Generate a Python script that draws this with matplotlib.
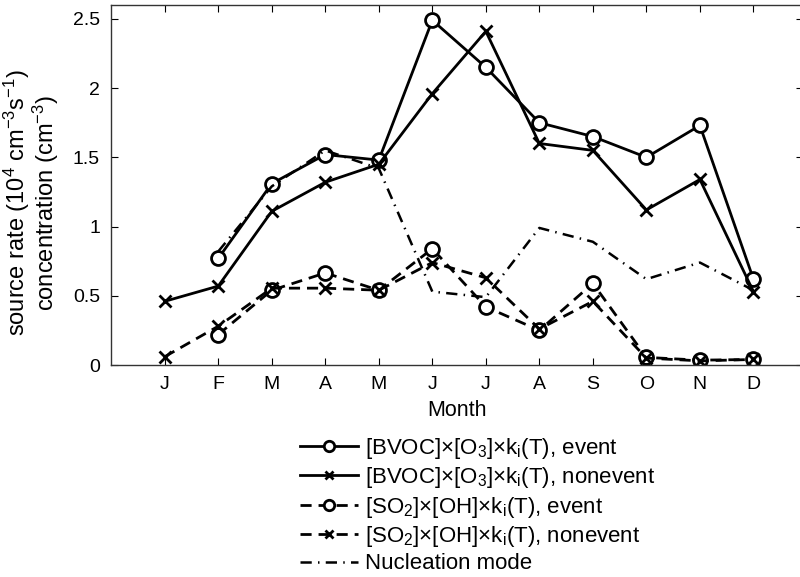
import numpy as np
import matplotlib
matplotlib.use('Agg')
import matplotlib.pyplot as plt

plt.rcParams['font.family'] = ['Liberation Sans', 'DejaVu Sans']
plt.rcParams['mathtext.fontset'] = 'custom'
plt.rcParams['mathtext.rm'] = 'Liberation Sans'
plt.rcParams['mathtext.it'] = 'Liberation Sans'

months = ['J', 'F', 'M', 'A', 'M', 'J', 'J', 'A', 'S', 'O', 'N', 'D']

# values (nan = no point that month)
bvoc_event = [np.nan, 0.77, 1.31, 1.52, 1.48, 2.49, 2.15, 1.75, 1.65, 1.50, 1.73, 0.62]
bvoc_nonevent = [0.46, 0.57, 1.11, 1.32, 1.45, 1.96, 2.41, 1.60, 1.55, 1.12, 1.34, 0.53]
so2_event = [np.nan, 0.22, 0.54, 0.665, 0.54, 0.84, 0.42, 0.25, 0.59, 0.055, 0.035, 0.04]
so2_nonevent = [0.06, 0.28, 0.555, 0.555, 0.54, 0.74, 0.63, 0.26, 0.46, 0.05, 0.03, 0.04]
nucleation = [np.nan, 0.82, 1.29, 1.55, 1.42, 0.53, 0.49, 0.99, 0.89, 0.62, 0.74, 0.54]

x = np.arange(1, 13)

fig = plt.figure(figsize=(8, 5.77), dpi=100)
ax = fig.add_axes([0.139, 0.3674, 0.865, 0.6239])

lw = 2
ax.plot(x, bvoc_event, '-', color='k', lw=lw, marker='o', ms=10, mew=2, mfc='white',
        label='[BVOC]×[O$_3$]×k$_\\mathrm{i}$(T), event')
ax.plot(x, bvoc_nonevent, '-', color='k', lw=lw, marker='x', ms=8, mew=2,
        label='[BVOC]×[O$_3$]×k$_\\mathrm{i}$(T), nonevent')
ax.plot(x, so2_event, color='k', lw=lw, dashes=(4, 2.5), marker='o', ms=10, mew=2, mfc='white',
        label='[SO$_2$]×[OH]×k$_\\mathrm{i}$(T), event')
ax.plot(x, so2_nonevent, color='k', lw=lw, dashes=(4, 2.5), marker='x', ms=8, mew=2,
        label='[SO$_2$]×[OH]×k$_\\mathrm{i}$(T), nonevent')
ax.plot(x, nucleation, color='k', lw=1.8, dashes=(4.5, 2.5, 0.6, 2.5),
        label='Nucleation mode')

ax.set_xlim(0, 12.93)
ax.set_ylim(0, 2.6)
ax.set_xticks(x)
ax.set_xticklabels(months)
ax.set_yticks([0, 0.5, 1, 1.5, 2, 2.5])
ax.set_yticklabels(['0', '0.5', '1', '1.5', '2', '2.5'])
ax.tick_params(direction='in', top=True, right=True, length=5, width=0.8,
               labelsize=14, pad=8)
for s in ax.spines.values():
    s.set_linewidth(1)
    s.set_color('#333333')

ax.set_xlabel('Month', fontsize=15.5, labelpad=5)
ax.set_ylabel('source rate (10$^4$ cm$^{-3}$s$^{-1}$)\nconcentration (cm$^{-3}$)',
              fontsize=17, linespacing=0.95)
ax.yaxis.set_label_coords(-0.072, 0.45)

fig.legend(loc='upper left', bbox_to_anchor=(0.375, 0.245), frameon=False,
           fontsize=16, handlelength=2.6, handletextpad=0.33, labelspacing=0.2,
           markerscale=0.75, borderpad=0, borderaxespad=0)

fig.savefig('out.png', dpi=100)
